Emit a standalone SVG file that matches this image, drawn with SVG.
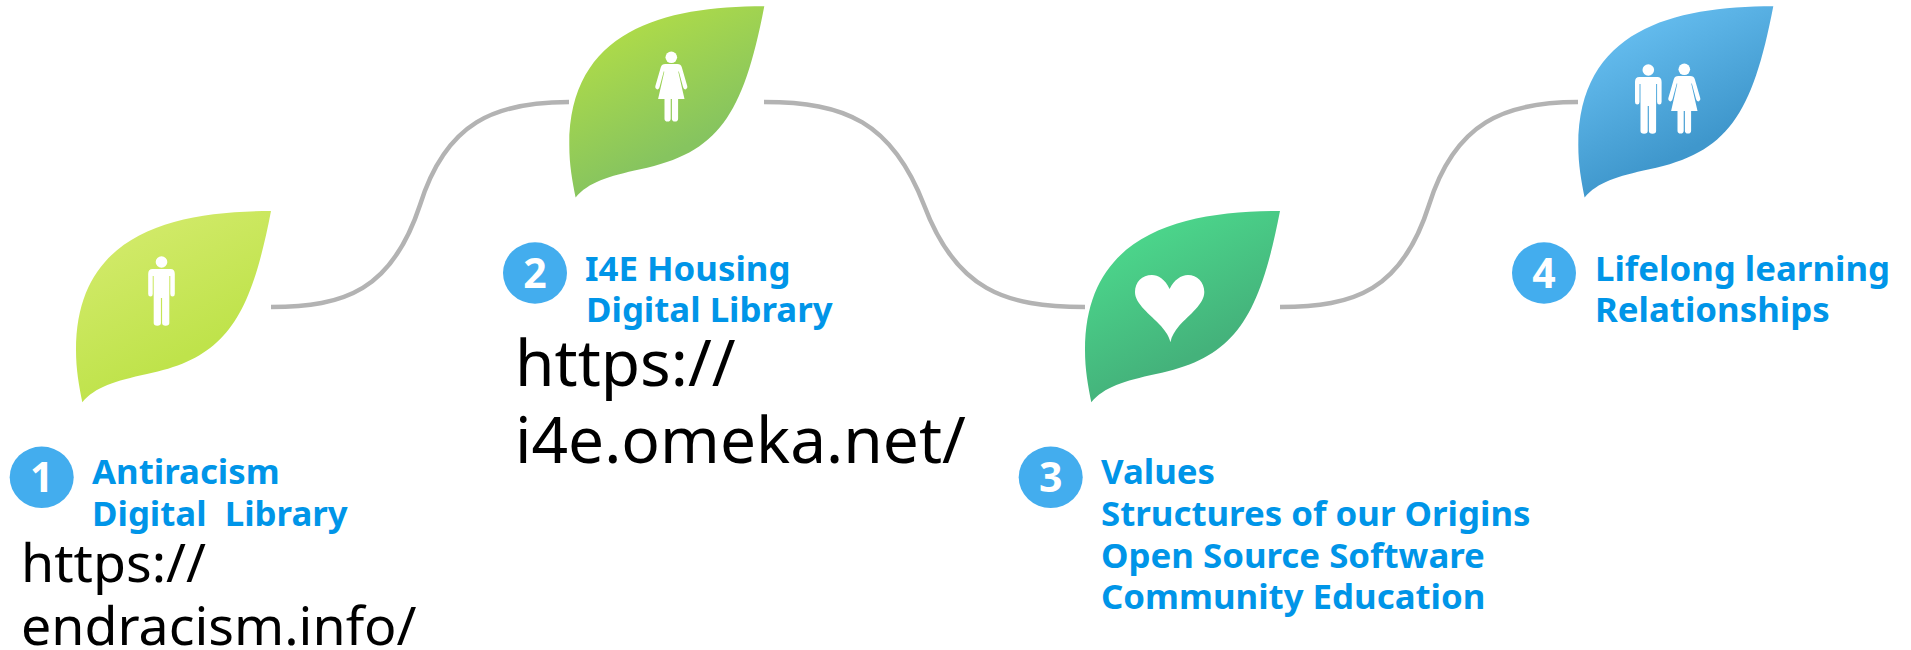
<svg xmlns="http://www.w3.org/2000/svg" xmlns:xlink="http://www.w3.org/1999/xlink" width="1911" height="650" viewBox="0 0 1911 650">
<style>
.t{font-family:"Noto Sans","Open Sans",sans-serif;font-weight:700;font-size:34.8px;fill:#0095e8}
.u{font-family:"Noto Sans","Open Sans",sans-serif;fill:#000}
.n{font-family:"Noto Sans","Open Sans",sans-serif;font-weight:700;font-size:41px;fill:#fff;text-anchor:middle}
.b{fill:#43adee}
.c{fill:none;stroke:#b3b3b3;stroke-width:4.5}
.w{fill:#fff}
</style>
<defs>
<path id="leaf" d="M271 211C170 211 76 235 76 350C76 370 79 385 82.3 402.3C95 387 115 381 147 374C225 358 250 320 271 211Z"/>
<g id="man"><circle r="5.8"/><path d="M-9 7H9Q13.3 7 13.3 12V32Q13.3 34.5 11 34.5Q8.8 34.5 8.8 32V14H7.8V61Q7.8 63.7 4.2 63.7Q.6 63.7 .6 61V36H-.6V61Q-.6 63.7 -4.2 63.7Q-7.8 63.7 -7.8 61V14H-8.8V32Q-8.8 34.5 -11 34.5Q-13.3 34.5 -13.3 32V12Q-13.3 7 -9 7Z"/></g>
<g id="woman"><circle r="5.8"/><path d="M-6 6.7H6Q9.5 6.7 10.5 10L16 29Q16.5 31.5 14.5 32Q12.5 32.5 11.8 30L7.5 14L7 14.5L13.2 41.7H6.8V61.5Q6.8 64.3 3.7 64.3Q.6 64.3 .6 61.5V41.7H-.6V61.5Q-.6 64.3 -3.7 64.3Q-6.8 64.3 -6.8 61.5V41.7H-13.2L-7 14.5L-7.5 14L-11.8 30Q-12.5 32.5 -14.5 32Q-16.5 31.5 -16 29L-10.5 10Q-9.5 6.7 -6 6.7Z"/></g>
<linearGradient id="g1" gradientUnits="userSpaceOnUse" x1="130" y1="225" x2="195" y2="350"><stop offset="0" stop-color="#d2ea6a"/><stop offset="1" stop-color="#bfe34b"/></linearGradient>
<linearGradient id="g2" gradientUnits="userSpaceOnUse" x1="130" y1="225" x2="195" y2="350"><stop offset="0" stop-color="#b0dc48"/><stop offset="1" stop-color="#86c45f"/></linearGradient>
<linearGradient id="g3" gradientUnits="userSpaceOnUse" x1="130" y1="225" x2="195" y2="350"><stop offset="0" stop-color="#4cd88c"/><stop offset="1" stop-color="#44b27b"/></linearGradient>
<linearGradient id="g4" gradientUnits="userSpaceOnUse" x1="130" y1="225" x2="195" y2="350"><stop offset="0" stop-color="#66bef0"/><stop offset="1" stop-color="#3f97cc"/></linearGradient>
</defs>
<g id="connectors">
<path class="c" d="M271 307C345 307 392 290 420 205C446 122 495 102 569 102"/>
<path class="c" d="M764 102C845 102 892 122 924 205C956 290 1005 307 1085 307"/>
<path class="c" d="M1280 307C1355 307 1402 290 1429 205C1455 122 1505 102 1578 102"/>
</g>
<g id="node1">
<use href="#leaf" fill="url(#g1)"/>
<use href="#man" x="161.5" y="262" class="w"/>
<ellipse class="b" cx="41.7" cy="477.3" rx="32" ry="30.7"/>
<text class="n" x="41.7" y="492">1</text>
<text class="t" x="92" y="484">Antiracism</text>
<text class="t" x="92" y="526" xml:space="preserve">Digital  Library</text>
<text class="u" font-size="53.7" x="21" y="582">https://</text>
<text class="u" font-size="53.7" x="21" y="645">endracism.info/</text>
</g>
<g id="node2">
<use href="#leaf" transform="translate(493.3 -204.7)" fill="url(#g2)"/>
<use href="#woman" x="671.3" y="57.3" class="w"/>
<ellipse class="b" cx="535" cy="273" rx="32" ry="30.7"/>
<text class="n" x="535" y="288">2</text>
<text class="t" x="585" y="281">I4E Housing</text>
<text class="t" x="586" y="322">Digital Library</text>
<text class="u" font-size="64" x="515" y="386">https://</text>
<text class="u" font-size="64" x="515" y="463">i4e.omeka.net/</text>
</g>
<g id="node3">
<use href="#leaf" transform="translate(1009 0)" fill="url(#g3)"/>
<path class="w" d="M1169.6 289C1165 279 1158 275 1152 275C1142 275 1135 282 1135 292C1135 304 1150 314 1161 326C1166 332 1169 336 1170.4 342.3C1171.5 336 1175 331 1179 326C1190 314 1204.3 304 1204.3 292C1204.3 282 1197 275 1188 275C1181 275 1174 280 1169.6 289Z"/>
<ellipse class="b" cx="1050.7" cy="477.3" rx="32" ry="30.7"/>
<text class="n" x="1050.7" y="492">3</text>
<text class="t" x="1101" y="484">Values</text>
<text class="t" x="1101" y="526">Structures of our Origins</text>
<text class="t" x="1101" y="568">Open Source Software</text>
<text class="t" x="1101" y="609">Community Education</text>
</g>
<g id="node4">
<use href="#leaf" transform="translate(1502.3 -204.7)" fill="url(#g4)"/>
<use href="#man" x="1648.3" y="70" class="w"/>
<use href="#woman" x="1684.3" y="69.3" class="w"/>
<ellipse class="b" cx="1544" cy="273" rx="32" ry="30.7"/>
<text class="n" x="1544" y="288">4</text>
<text class="t" x="1595" y="281">Lifelong learning</text>
<text class="t" x="1595" y="322">Relationships</text>
</g>
</svg>
